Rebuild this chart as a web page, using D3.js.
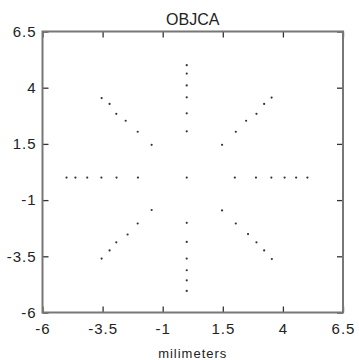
<!DOCTYPE html>
<html>
<head>
<meta charset="utf-8">
<script src="https://cdn.jsdelivr.net/npm/d3@7/dist/d3.min.js"></script>
<style>
  html, body { margin: 0; padding: 0; background: #fff; }
  svg { display: block; }
  text { font-family: "Liberation Sans", Arial, sans-serif; fill: #222; }
</style>
</head>
<body>
<div id="chart"></div>
<script>
// Sample positions (mm): a centre point plus eight radial spokes.
const pointX = [
  0,
  2.0, 2.88, 3.52, 4.07, 4.55, 5.02,          // right
  -2.03, -2.92, -3.55, -4.14, -4.63, -5.0,    // left
  0, 0, 0, 0, 0, 0,                           // up
  0, 0, 0, 0, 0, 0,                           // down
  -1.46, -2.04, -2.54, -2.93, -3.21, -3.54,   // upper left
  1.47, 2.04, 2.47, 2.9, 3.22, 3.53,          // upper right
  -1.46, -2.04, -2.46, -2.93, -3.21, -3.54,   // lower left
  1.47, 2.04, 2.55, 2.9, 3.22, 3.54           // lower right
];
const pointY = [
  0,
  0, 0, 0, 0, 0, 0,
  0, 0, 0, 0, 0, 0,
  2.06, 2.86, 3.57, 4.1, 4.63, 5.0,
  -2.01, -2.86, -3.6, -4.12, -4.57, -5.04,
  1.46, 2.04, 2.53, 2.84, 3.28, 3.54,
  1.46, 2.04, 2.53, 2.84, 3.28, 3.56,
  -1.44, -2.04, -2.53, -2.88, -3.24, -3.6,
  -1.46, -2.04, -2.51, -2.88, -3.24, -3.62
];
const tickValues = [-6, -3.5, -1, 1.5, 4, 6.5];
const tickLabels = ["-6", "-3.5", "-1", "1.5", "4", "6.5"];
const titleText = "OBJCA";
const xLabelText = "milimeters";

const W = 359, H = 360;
const plotL = 42.5, plotR = 343, plotT = 31.5, plotB = 312.5;

const svg = d3.select("#chart").append("svg")
  .attr("width", W).attr("height", H);

const x = d3.scaleLinear().domain([-6, 6.5]).range([plotL, plotR]);
const y = d3.scaleLinear().domain([-6, 6.5]).range([plotB, plotT]);

const tickLen = 6;
const fmt = (d) => tickLabels[tickValues.indexOf(d)];

// Axes with inward ticks on all four sides
function styleAxis(g) {
  g.select(".domain").remove();
  g.selectAll(".tick line").attr("stroke", "#333").attr("stroke-width", 1.3);
  g.selectAll(".tick text")
    .style("font-size", "15px")
    .style("letter-spacing", "1px")
    .attr("fill", "#222");
}

svg.append("g").attr("transform", `translate(0,${plotB})`)
  .call(d3.axisBottom(x).tickValues(tickValues).tickFormat(fmt)
    .tickSizeInner(-tickLen).tickSizeOuter(0).tickPadding(11))
  .call(styleAxis);

svg.append("g").attr("transform", `translate(0,${plotT})`)
  .call(d3.axisTop(x).tickValues(tickValues).tickFormat("")
    .tickSizeInner(-tickLen).tickSizeOuter(0))
  .call(styleAxis);

svg.append("g").attr("transform", `translate(${plotL},0)`)
  .call(d3.axisLeft(y).tickValues(tickValues).tickFormat(fmt)
    .tickSizeInner(-tickLen).tickSizeOuter(0).tickPadding(6))
  .call(styleAxis);

svg.append("g").attr("transform", `translate(${plotR},0)`)
  .call(d3.axisRight(y).tickValues(tickValues).tickFormat("")
    .tickSizeInner(-tickLen).tickSizeOuter(0))
  .call(styleAxis);

// Plot box
svg.append("rect")
  .attr("x", plotL).attr("y", plotT)
  .attr("width", plotR - plotL).attr("height", plotB - plotT)
  .attr("fill", "none").attr("stroke", "#777").attr("stroke-width", 2);

// Sample points
const pts = pointX.map((v, i) => ({ x: v, y: pointY[i] }));
svg.append("g").selectAll("circle").data(pts).join("circle")
  .attr("cx", d => x(d.x))
  .attr("cy", d => y(d.y))
  .attr("r", 1.1)
  .attr("fill", "#333");

// Title and axis label
svg.append("text")
  .attr("x", (plotL + plotR) / 2).attr("y", 25)
  .attr("text-anchor", "middle")
  .style("font-size", "16px")
  .text(titleText);

svg.append("text")
  .attr("x", (plotL + plotR) / 2).attr("y", 357.5)
  .attr("text-anchor", "middle")
  .style("font-size", "13px")
  .style("letter-spacing", "1px")
  .text(xLabelText);
</script>
</body>
</html>
